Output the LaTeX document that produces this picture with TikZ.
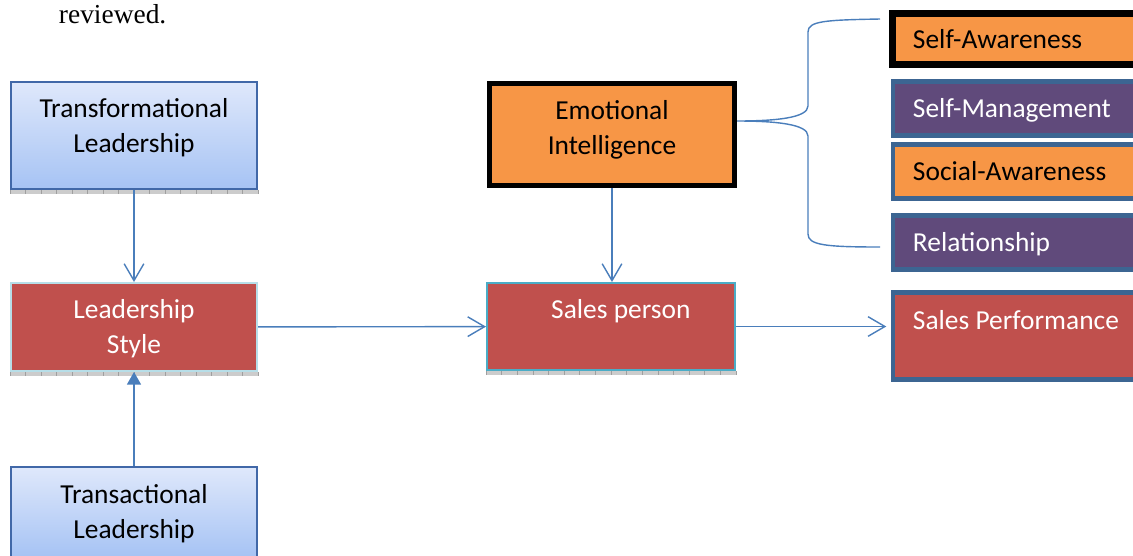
\documentclass[tikz,border=0pt]{standalone}
\usepackage{fontspec}
\setmainfont{Carlito}
\newfontfamily\bodyserif{Liberation Serif}
\usetikzlibrary{arrows.meta,positioning,calc}
\definecolor{elRed}{HTML}{C0504D}
\definecolor{elOrange}{HTML}{F79646}
\definecolor{elPurple}{HTML}{604A7B}
\definecolor{elNavy}{HTML}{3C6592}
\definecolor{elArrow}{HTML}{4A7EBB}
\definecolor{elSkyTop}{HTML}{DFE8FB}
\definecolor{elSkyBot}{HTML}{A6C3F4}
\definecolor{elSkyLine}{HTML}{4168A8}
\definecolor{elCyan}{HTML}{4BACC6}
\definecolor{elPale}{HTML}{B7DEE8}

\begin{document}
\begin{tikzpicture}[x=0.025cm,y=-0.025cm,
    font=\fontsize{19.5}{25}\selectfont,
    cbox/.style={draw,inner sep=0pt,align=flush center},
    leadcard/.style={cbox,line width=1.4pt,draw=elSkyLine,top color=elSkyTop,
                     bottom color=elSkyBot,minimum width=6.15cm,text width=6cm},
    redcard/.style={cbox,fill=elRed,text=white,line width=1.4pt},
    dimcard/.style={cbox,line width=3.5pt,draw=elNavy,minimum width=6.25cm,
                    minimum height=1.35cm,text width=5.25cm,align=flush left,
                    text height=18pt,text depth=5pt},
    link/.style={draw=elArrow,line width=1pt,-{Straight Barb[length=12pt,width=14pt]}},
    push/.style={draw=elArrow,line width=1pt,-{Triangle[length=9pt,width=10pt]}},
    brace/.style={draw=elArrow,line width=1pt},
    strip/.style={fill=gray!40}]
  \useasboundingbox (0,0) rectangle (1133,555);
  \node[anchor=base west,font=\bodyserif\fontsize{19.5}{25}\selectfont] (rev) at (54,23) {reviewed.};

  % left column
  \node[leadcard,minimum height=2.675cm,text height=14pt,text depth=40.3pt] (trf) at (134,135.5)
    {Transformational\\Leadership};
  \node[redcard,draw=elPale,minimum width=6.15cm,minimum height=2.2cm,text width=6cm,
        text height=14pt,text depth=26.8pt] (ls) at (134,327) {Leadership\\Style};
  \node[leadcard,minimum height=2.25cm,text height=14pt,text depth=26.1pt] (trs) at (134,512)
    {Transactional\\Leadership};

  % middle column
  \node[cbox,fill=elOrange,line width=3.6pt,minimum width=6.125cm,minimum height=2.55cm,
        text width=6cm,text height=14pt,text depth=36pt] (ei) at (612,134.5) {Emotional\\Intelligence};
  \node[redcard,draw=elCyan,minimum width=6.2cm,minimum height=2.175cm,text width=6cm,
        text height=14pt,text depth=26.1pt] (sp) at (611,326.5) {\hspace{14pt}Sales person};

  % right column
  \node[dimcard,draw=black,line width=5pt,fill=elOrange,minimum height=1.275cm] (self) at (1018,39) {Self-Awareness};
  \node[dimcard,fill=elPurple,text=white] (mgmt) at (1018,108.5) {Self-Management};
  \node[dimcard,fill=elOrange] (social) at (1018,171.5) {Social-Awareness};
  \node[dimcard,fill=elPurple,text=white] (rel) at (1018,242.5) {Relationship};
  \node[dimcard,fill=elRed,text=white,minimum height=2.175cm,text height=14pt,text depth=22.6pt]
    (perf) at (1018,336) {Sales Performance};

  % ruler strips under the boxes
  \foreach \b in {trf,ls,sp}{
    \fill[strip] (\b.south west) rectangle ($(\b.south east)+(0,4)$);
    \foreach \t in {0,...,16}
      \draw[gray!75,line width=0.4pt] ($(\b.south west)!\t/16!(\b.south east)$) -- ++(0,4);
  }

  % connectors
  \draw[link] (trf) -- (ls);
  \draw[push] (trs) -- (ls);
  \draw[link] (ls) -- (sp);
  \draw[link] (ei.south) -- (ei.south |- sp.north);
  \draw[link,shorten >=3pt] (sp.east) -- (sp.east -| perf.west);

  % brace to the four dimensions
  \coordinate (braceTip) at ($(ei.east)+(0,-13.5)$);
  \coordinate (braceTop) at (880,19);
  \coordinate (braceBot) at (880,247);
  \draw[brace] (braceTop) .. controls (825,20) and (808,21) .. (808,32) -- (808,106)
    .. controls (808,118) and (775,121) .. (braceTip)
    .. controls (775,121) and (808,124) .. (808,136) -- (808,234)
    .. controls (808,245) and (825,247) .. (braceBot);
\end{tikzpicture}
\end{document}
